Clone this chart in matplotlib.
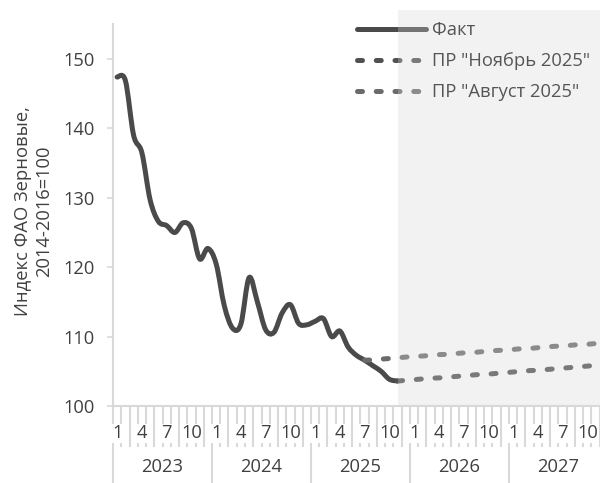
import numpy as np
import matplotlib
matplotlib.use('Agg')
from matplotlib import pyplot as plt
from matplotlib.path import Path
from matplotlib.patches import PathPatch
from matplotlib.lines import Line2D
from matplotlib.transforms import blended_transform_factory

plt.rcParams['font.family'] = ['Open Sans', 'DejaVu Sans']

# monthly index, Jan 2023 .. Nov 2025
years = [2023, 2024, 2025, 2026, 2027]
month_marks = [1, 4, 7, 10]
fact = [147.4, 146.9, 139.0, 136.5, 129.7, 126.6, 126.0, 125.0, 126.4, 125.6, 121.2, 122.7,
        120.5, 114.4, 111.2, 111.8, 118.5, 115.0, 111.0, 110.6, 113.4, 114.6, 111.9, 111.7,
        112.2, 112.6, 110.0, 110.8, 108.5, 107.3, 106.6, 105.8, 105.0, 103.85, 103.6]

# forecasts: index of first month in the series and monthly values
nov_start = 34
nov_forecast = [103.6, 103.7, 103.8, 103.9, 104.0, 104.05, 104.15, 104.25, 104.35,
                104.45, 104.55, 104.6, 104.7, 104.8, 104.9, 105.0, 105.1, 105.15,
                105.25, 105.35, 105.45, 105.55, 105.65, 105.75, 105.85, 105.9]
aug_start = 30
aug_forecast = [106.6, 106.65, 106.75, 106.85, 106.95, 107.05, 107.15, 107.2, 107.3,
                107.4, 107.45, 107.55, 107.65, 107.7, 107.8, 107.9, 108.0, 108.05,
                108.15, 108.25, 108.3, 108.4, 108.5, 108.6, 108.65, 108.75, 108.85,
                108.9, 109.0, 109.1]
forecast_from = 34

labels = ['Факт', 'ПР "Ноябрь 2025"', 'ПР "Август 2025"']
colors = ['#4a4a4a', '#515151', '#6b6b6b']
grid_col = '#d9d9d9'
text_col = '#404040'
fs = 13.2


def smooth_path(x, y):
    # Catmull-Rom style bezier through the points (like a smoothed office line)
    pts = np.column_stack([x, y]).astype(float)
    n = len(pts)
    verts = [pts[0]]
    codes = [Path.MOVETO]
    for i in range(n - 1):
        p0 = pts[max(i - 1, 0)]
        p1 = pts[i]
        p2 = pts[i + 1]
        p3 = pts[min(i + 2, n - 1)]
        verts += [p1 + (p2 - p0) / 6.0, p2 - (p3 - p1) / 6.0, p2]
        codes += [Path.CURVE4] * 3
    return Path(verts, codes)


fig = plt.figure(figsize=(6, 4.83), dpi=100)
ax = fig.add_axes([113 / 600, 77 / 483, 495 / 600, 396 / 483])

lw = 3.6
dash = (0, (1.0, 2.75))
series = [(0, fact, '-'), (nov_start, nov_forecast, dash), (aug_start, aug_forecast, dash)]
for (start, vals, ls), col in zip(series, colors):
    xs = np.arange(start, start + len(vals))
    ax.add_patch(PathPatch(smooth_path(xs, vals), facecolor='none', edgecolor=col,
                           lw=lw, linestyle=ls, capstyle='round', joinstyle='round',
                           zorder=3))

# forecast period
ax.axvspan(forecast_from, 59.5, facecolor=(0.83, 0.845, 0.845), alpha=0.3, lw=0, zorder=5)

ax.set_xlim(-0.5, 59.5)
ax.set_ylim(100, 157.06)
for s in ['top', 'right']:
    ax.spines[s].set_visible(False)
for s in ['left', 'bottom']:
    ax.spines[s].set_color(grid_col)
    ax.spines[s].set_linewidth(1.5)
ax.spines['left'].set_bounds(100, 155)

ax.set_yticks(range(100, 151, 10))
ax.tick_params(axis='y', length=4.3, width=1.2, color=grid_col, pad=8.6,
               labelsize=fs, labelcolor=text_col)

# category boundaries: months short, years long
ax.set_xticks(np.arange(-0.5, 60, 12))
ax.set_xticks(np.arange(-0.5, 60, 1), minor=True)
ax.set_xticklabels([])
ax.tick_params(axis='x', which='major', length=60, width=1.5, color=grid_col)
ax.tick_params(axis='x', which='minor', length=29.5, width=1.5, color=grid_col)

# month and year labels under the axis
trans = blended_transform_factory(ax.transData, ax.transAxes)
for k, yr in enumerate(years):
    for m in month_marks:
        ax.text(k * 12 + m - 1, -0.0694, str(m), transform=trans, ha='center', va='center',
                fontsize=fs, color=text_col, clip_on=False, zorder=6,
                bbox=dict(boxstyle='square,pad=0.05', facecolor='white', edgecolor='none'))
    ax.text(k * 12 + 5.5, -0.155, str(yr), transform=trans, ha='center', va='center',
            fontsize=fs, color=text_col, clip_on=False, zorder=6)

handles = [Line2D([], [], color=c, lw=lw, linestyle=ls, solid_capstyle='round',
                  dash_capstyle='round') for c, ls in zip(colors, ['-', dash, dash])]
leg = ax.legend(handles, labels, loc='upper left', bbox_to_anchor=(357 / 600, 1 - 21 / 483),
                bbox_transform=fig.transFigure, frameon=False, fontsize=fs,
                handlelength=3.75, handletextpad=0.33, labelspacing=0.72,
                borderpad=0, borderaxespad=0)
leg.set_zorder(4)
for t in leg.get_texts():
    t.set_color('#1e1e1e')

fig.text(33.5 / 600, 1 - 211 / 483, 'Индекс ФАО Зерновые,\n2014-2016=100', rotation=90,
         ha='center', va='center', fontsize=fs, color=text_col, linespacing=1.25)

fig.savefig('out.png', dpi=100)
